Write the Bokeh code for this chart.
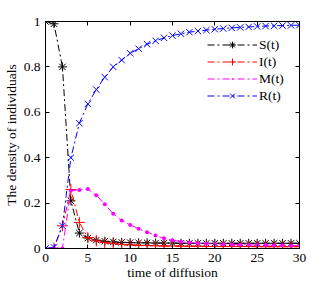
from bokeh.plotting import figure
from bokeh.models import (Range1d, LinearAxis, Legend, LegendItem, FixedTicker,
                          CustomJSTickFormatter)
from bokeh.embed import file_html
from bokeh.resources import INLINE

# ---- data ----
t = list(range(31))
S = [1.0, 0.99, 0.80, 0.21, 0.068, 0.046, 0.037, 0.032, 0.029, 0.027, 0.026,
     0.025, 0.025, 0.024, 0.024, 0.024, 0.023, 0.023, 0.023, 0.023, 0.023,
     0.023, 0.023, 0.023, 0.023, 0.023, 0.023, 0.023, 0.023, 0.023, 0.023]
I = [0.0, 0.002, 0.10, 0.26, 0.115, 0.048, 0.033, 0.026, 0.021, 0.018, 0.016,
     0.014, 0.013, 0.012, 0.011, 0.011, 0.010, 0.010, 0.010, 0.009, 0.009,
     0.009, 0.009, 0.009, 0.009, 0.008, 0.008, 0.008, 0.008, 0.008, 0.008]
M = [0.0, 0.0, 0.0, 0.255, 0.258, 0.262, 0.235, 0.195, 0.153, 0.123, 0.104,
     0.087, 0.072, 0.057, 0.045, 0.036, 0.030, 0.026, 0.023, 0.021, 0.020,
     0.019, 0.018, 0.017, 0.016, 0.015, 0.015, 0.014, 0.014, 0.013, 0.013]
R = [0.0, 0.005, 0.10, 0.40, 0.552, 0.637, 0.70, 0.755, 0.80, 0.83, 0.86,
     0.88, 0.90, 0.915, 0.928, 0.938, 0.946, 0.953, 0.958, 0.962, 0.966,
     0.969, 0.972, 0.974, 0.976, 0.978, 0.980, 0.981, 0.982, 0.983, 0.984]

labels = ["S(t)", "I(t)", "M(t)", "R(t)"]
x_ticks = [0, 5, 10, 15, 20, 25, 30]
y_ticks = [0, 0.2, 0.4, 0.6, 0.8, 1.0]
x_title = "time of diffusion"
y_title = "The density of individuals"

FONT = "Liberation Serif"

p = figure(width=331, height=283, output_backend="svg", toolbar_location=None,
           x_range=Range1d(0, 30), y_range=Range1d(0, 1),
           min_border_left=43, min_border_right=32, min_border_top=21,
           min_border_bottom=35, background_fill_color="white",
           border_fill_color="white")
p.grid.visible = False
p.outline_line_color = "black"
p.outline_line_width = 1

fmt = CustomJSTickFormatter(code="return tick.toFixed(1).replace(/\\.0$/, '');")
fmt_x = CustomJSTickFormatter(code="return tick.toFixed(0);")
empty = CustomJSTickFormatter(code="return '';")


def style(ax, ticks, formatter):
    ax.ticker = FixedTicker(ticks=ticks)
    ax.formatter = formatter
    ax.axis_line_color = "black"
    ax.major_tick_line_color = "black"
    ax.major_tick_in = 4
    ax.major_tick_out = 0
    ax.minor_tick_line_color = None
    ax.major_label_text_font = FONT
    ax.major_label_text_font_size = "13.5px"
    ax.major_label_text_color = "black"
    ax.axis_label_text_font = FONT
    ax.axis_label_text_font_size = "13.5px"
    ax.axis_label_text_font_style = "normal"
    ax.axis_label_text_color = "black"


style(p.xaxis[0], x_ticks, fmt_x)
style(p.yaxis[0], y_ticks, fmt)
p.xaxis[0].axis_label = x_title
p.yaxis[0].axis_label = y_title
p.xaxis[0].major_label_standoff = 5
p.xaxis[0].axis_label_standoff = 0
p.yaxis[0].major_label_standoff = 5
p.yaxis[0].axis_label_standoff = 2

top = LinearAxis()
style(top, x_ticks, empty)
top.major_label_standoff = 0
p.add_layout(top, "above")
right = LinearAxis()
style(right, y_ticks, empty)
right.major_label_standoff = 0
p.add_layout(right, "right")

DASH = "7 3 2 3"
series = [
    (S, "black", "asterisk", 9, labels[0]),
    (I, "#FF0000", "cross", 11, labels[1]),
    (M, "#FF00FF", "dot", 16, labels[2]),
    (R, "#0000FF", "x", 9, labels[3]),
]
items = []
for ys, col, mk, sz, lab in series:
    ln = p.line(t, ys, line_color=col, line_width=1, line_dash=DASH)
    sc = p.scatter(t, ys, marker=mk, size=sz, line_color=col,
                   fill_color=col, line_width=1)
    items.append(LegendItem(label=lab, renderers=[ln, sc]))

legend = Legend(items=items, location=(162, 144), padding=0, margin=0,
                spacing=0, glyph_width=50, glyph_height=17, label_height=17,
                label_standoff=2, label_text_font=FONT,
                label_text_font_size="13.5px", label_text_color="black",
                border_line_color=None, background_fill_alpha=0)
p.add_layout(legend)

open("out.html", "w").write(file_html(p, INLINE))
